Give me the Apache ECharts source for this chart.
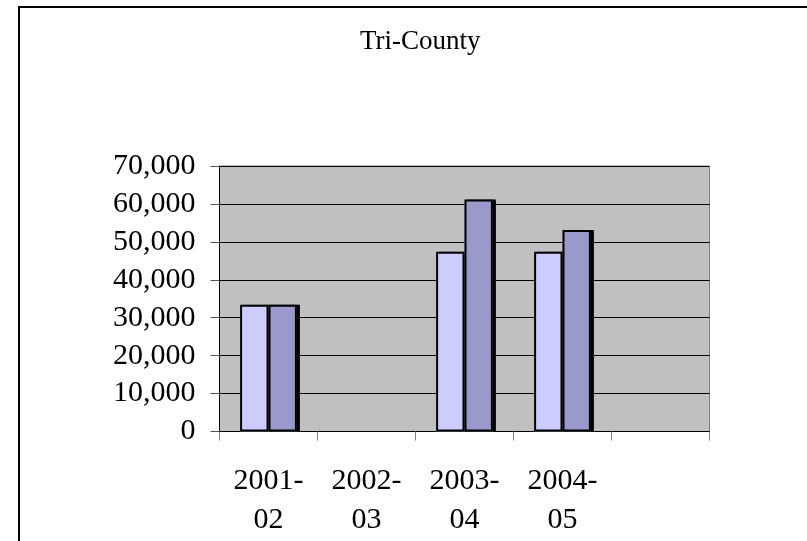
<!DOCTYPE html>
<html>
<head>
<meta charset="utf-8">
<script src="https://cdn.jsdelivr.net/npm/echarts@6/dist/echarts.min.js"></script>
<style>
  html, body { margin: 0; padding: 0; background: #fff; }
  #chart { width: 807px; height: 541px; }
</style>
</head>
<body>
<div id="chart"></div>
<script>
// Tri-County yearly totals, two series per school year
const titleText = 'Tri-County';
const categories = ['2001-\n02', '2002-\n03', '2003-\n04', '2004-\n05', ''];
const seriesFirst = [33400, null, 47400, 47400, null];
const seriesSecond = [33400, null, 61200, 53100, null];
const yTicks = { min: 0, max: 70000, interval: 10000 };

const serif = '"Liberation Serif", "Times New Roman", serif';
const barWidth = 28.4;

const chart = echarts.init(document.getElementById('chart'), null, { renderer: 'canvas' });

// Fill layer carries the drop shadow; a second, outline-only layer sits on a
// hidden twin axis so the black outlines don't cast their own shadow.
const fillStyle = color => ({
  color,
  borderWidth: 0,
  shadowColor: '#000',
  shadowBlur: 0,
  shadowOffsetX: 3,
  shadowOffsetY: 0
});
const outlineStyle = {
  color: 'rgba(0,0,0,0)',
  borderColor: '#000',
  borderWidth: 2
};

chart.setOption({
  animation: false,
  backgroundColor: '#fff',
  title: {
    text: titleText,
    left: 355,
    top: 23,
    textStyle: { fontFamily: serif, fontSize: 27, fontWeight: 'normal', color: '#000' }
  },
  graphic: [{
    type: 'rect',
    shape: { x: 19, y: 7, width: 1000, height: 1000 },
    style: { fill: 'none', stroke: '#000', lineWidth: 2 },
    silent: true
  }],
  grid: {
    left: 219.5,
    right: 97.5,
    top: 166,
    bottom: 109.5,
    show: true,
    backgroundColor: '#C0C0C0',
    borderColor: '#808080',
    borderWidth: 1,
    containLabel: false
  },
  xAxis: [
    {
      type: 'category',
      data: categories,
      boundaryGap: true,
      axisLine: { show: true, lineStyle: { color: '#000', width: 1 } },
      axisTick: { show: true, interval: 0, length: 9, lineStyle: { color: '#808080' } },
      axisLabel: {
        interval: 0,
        margin: 30,
        fontFamily: serif,
        fontSize: 30,
        lineHeight: 39,
        color: '#000'
      },
      splitLine: { show: false }
    },
    {
      type: 'category',
      data: categories,
      boundaryGap: true,
      position: 'bottom',
      show: false
    }
  ],
  yAxis: {
    type: 'value',
    min: yTicks.min,
    max: yTicks.max,
    interval: yTicks.interval,
    axisLine: { show: true, lineStyle: { color: '#000', width: 1 } },
    axisTick: { show: true, length: 9, lineStyle: { color: '#555' } },
    axisLabel: {
      margin: 24,
      fontFamily: serif,
      fontSize: 30,
      color: '#000',
      formatter: v => v.toLocaleString('en-US')
    },
    splitLine: { show: true, lineStyle: { color: '#000', width: 1 } }
  },
  series: [
    {
      type: 'bar',
      xAxisIndex: 0,
      data: seriesFirst,
      barWidth: barWidth,
      barGap: '0%',
      itemStyle: fillStyle('#CCCCFF')
    },
    {
      type: 'bar',
      xAxisIndex: 0,
      data: seriesSecond,
      barWidth: barWidth,
      barGap: '0%',
      itemStyle: fillStyle('#9999CC')
    },
    {
      type: 'bar',
      xAxisIndex: 1,
      data: seriesFirst,
      barWidth: barWidth,
      barGap: '0%',
      itemStyle: outlineStyle
    },
    {
      type: 'bar',
      xAxisIndex: 1,
      data: seriesSecond,
      barWidth: barWidth,
      barGap: '0%',
      itemStyle: outlineStyle
    }
  ]
});
</script>
</body>
</html>
